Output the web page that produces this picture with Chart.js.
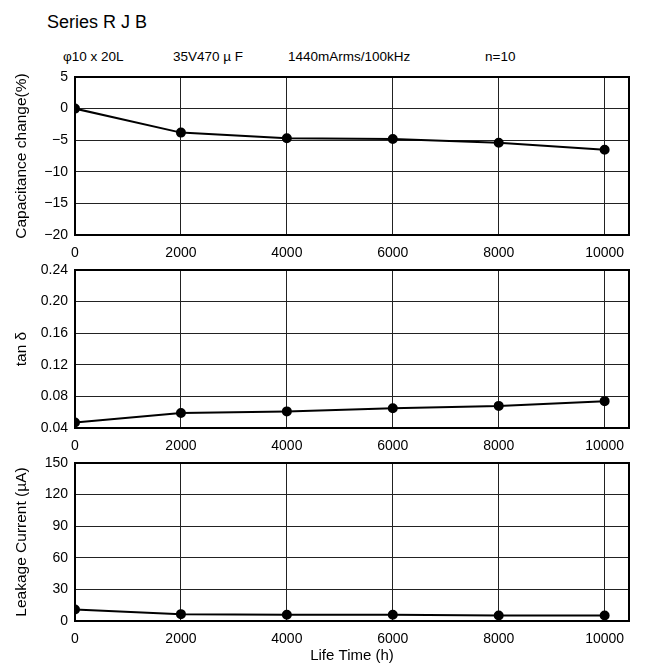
<!DOCTYPE html>
<html>
<head>
<meta charset="utf-8">
<script src="https://cdn.jsdelivr.net/npm/chart.js@4/dist/chart.umd.min.js"></script>
<style>
  body { margin: 0; background: #fff; font-family: "Liberation Sans", Arial, sans-serif; color: #000; }
  #page { position: relative; width: 652px; height: 665px; overflow: hidden; }
  .txt { position: absolute; white-space: nowrap; }
  .box { position: absolute; left: 0; width: 652px; }
</style>
</head>
<body>
<div id="page">
  <div class="txt" style="left:47px; top:12px; font-size:18px;">Series R J B</div>
  <div class="txt" style="left:63px; top:49px; font-size:13.5px;">&phi;10 x 20L</div>
  <div class="txt" style="left:173px; top:49px; font-size:13.5px;">35V470 &micro; F</div>
  <div class="txt" style="left:288px; top:49px; font-size:13.5px;">1440mArms/100kHz</div>
  <div class="txt" style="left:485px; top:49px; font-size:13.5px;">n=10</div>
  <div class="box" style="top:67px; height:196px;"><canvas id="c1" width="652" height="196"></canvas></div>
  <div class="box" style="top:260px; height:196px;"><canvas id="c2" width="652" height="196"></canvas></div>
  <div class="box" style="top:453px; height:216px;"><canvas id="c3" width="652" height="216"></canvas></div>
</div>
<script>
// life test data
const hours = [0, 2000, 4000, 6000, 8000, 10000];
const capChange = [0, -3.8, -4.7, -4.8, -5.4, -6.5];
const tanDelta = [0.047, 0.059, 0.061, 0.065, 0.068, 0.074];
const leakage = [11, 6.5, 6, 6, 5.3, 5.3];

Chart.defaults.font.family = '"Liberation Sans", Arial, sans-serif';
Chart.defaults.font.size = 14;
Chart.defaults.color = '#000';

// frame round the plot area
const frame = {
    id: 'frame',
    afterDraw(chart) {
        const a = chart.chartArea;
        const ctx = chart.ctx;
        ctx.save();
        ctx.strokeStyle = '#000';
        ctx.lineWidth = 2;
        ctx.strokeRect(a.left, a.top, a.right - a.left, a.bottom - a.top);
        ctx.restore();
    }
};

function minus(v) {
    return v < 0 ? '\u2212' + Math.abs(v) : String(v);
}

function makePanel(id, values, yMin, yMax, yStep, yTitle, fmt, xTitle) {
    const points = hours.map((h, i) => ({ x: h, y: values[i] }));
    return new Chart(document.getElementById(id), {
        type: 'line',
        data: {
            datasets: [{
                data: points,
                borderColor: '#000',
                backgroundColor: '#000',
                borderWidth: 2,
                pointRadius: 4,
                pointHoverRadius: 4,
                tension: 0
            }]
        },
        options: {
            responsive: false,
            animation: false,
            layout: { padding: { top: 10, left: 8, right: 23, bottom: 0 } },
            plugins: { legend: { display: false }, tooltip: { enabled: false } },
            scales: {
                x: {
                    type: 'linear',
                    min: 0,
                    max: 10460,
                    afterBuildTicks: s => { s.ticks = hours.map(h => ({ value: h })); },
                    ticks: {
                        padding: 10,
                        maxRotation: 0,
                        autoSkip: false,
                        callback: v => String(v)
                    },
                    grid: { color: '#222', lineWidth: 1, drawTicks: false },
                    border: { display: false },
                    title: { display: !!xTitle, text: xTitle || '', font: { size: 15 } },
                    afterFit: s => { s.height = xTitle ? 48 : 28; s.paddingLeft = 0; s.paddingRight = 0; }
                },
                y: {
                    min: yMin,
                    max: yMax,
                    ticks: { stepSize: yStep, padding: 7, callback: fmt },
                    grid: { color: '#222', lineWidth: 1, drawTicks: false },
                    border: { display: false },
                    title: { display: true, text: yTitle, font: { size: 15.5 } },
                    afterFit: s => { s.width = 67; s.paddingTop = 0; s.paddingBottom = 0; }
                }
            }
        },
        plugins: [frame]
    });
}

makePanel('c1', capChange, -20, 5, 5, 'Capacitance change(%)', v => minus(v));
makePanel('c2', tanDelta, 0.04, 0.24, 0.04, 'tan \u03b4', v => v.toFixed(2));
makePanel('c3', leakage, 0, 150, 30, 'Leakage Current (\u00b5A)', v => String(v), 'Life Time (h)');
</script>
</body>
</html>
